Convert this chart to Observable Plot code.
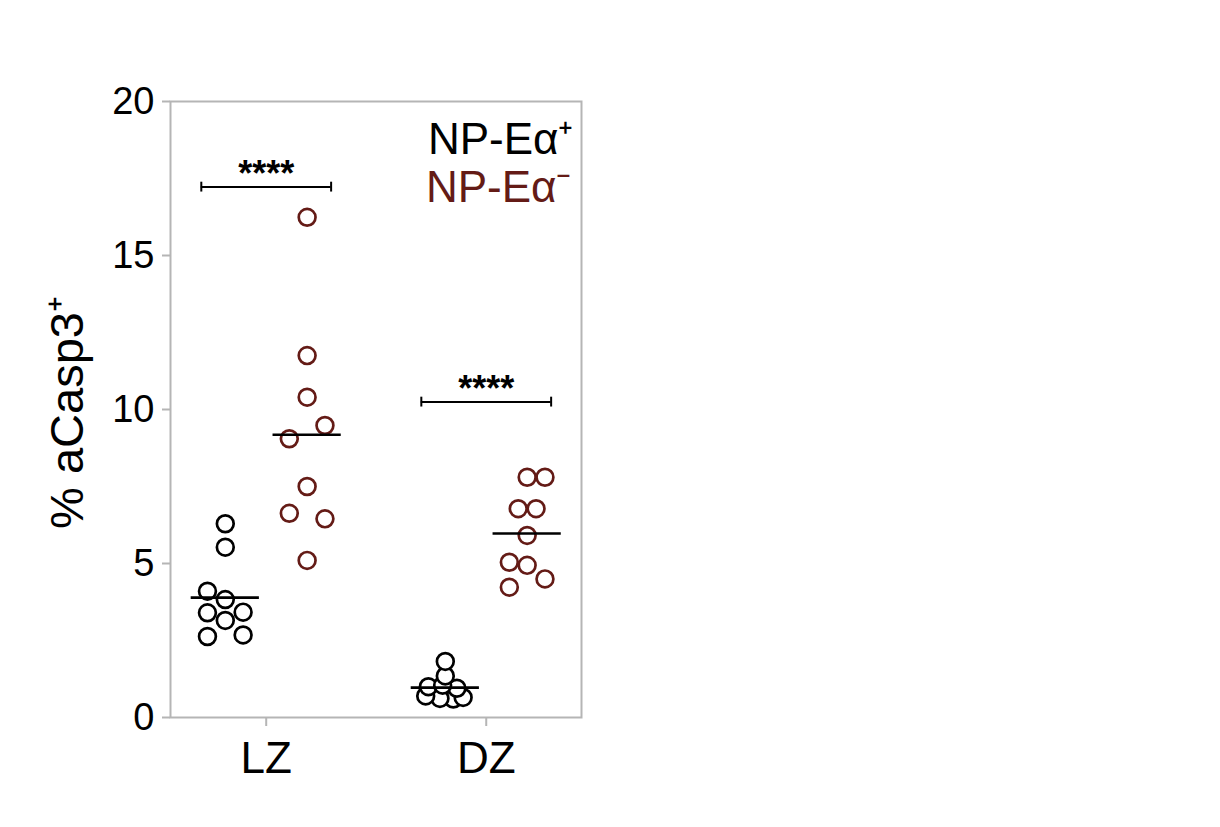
<!DOCTYPE html>
<html><head><meta charset="utf-8">
<script src="https://cdn.jsdelivr.net/npm/d3@7"></script>
<script src="https://cdn.jsdelivr.net/npm/@observablehq/plot@0.6"></script>
<style>body{margin:0;background:#fff;} svg{display:block}</style>
</head><body><div id="chart"></div>
<script>
// ---- data ----
const zones = ["LZ", "DZ"];
const groups = ["NP-Eα⁺", "NP-Eα⁻"];
const yTicks = [0, 5, 10, 15, 20];
const yLabel = "% aCasp3⁺";

// values (% aCasp3+) and swarm lane (jitter column) per point
const lzPosValues = [6.29, 5.53, 4.10, 3.83, 3.40, 3.42, 3.15, 2.63, 2.68];
const lzPosLanes  = [0, 0, -1, 0, -1, 1, 0, -1, 1];
const lzNegValues = [16.24, 11.75, 10.40, 9.48, 9.05, 7.50, 6.63, 6.45, 5.10];
const lzNegLanes  = [0, 0, 0, 1, -1, 0, -1, 1, 0];
const dzPosValues = [1.82, 1.35, 1.00, 1.05, 0.95, 0.70, 0.62, 0.60, 0.65];
const dzPosLanes  = [0, 0, -0.95, -0.15, 0.65, -1.1, -0.3, 0.45, 1.0];
const dzNegValues = [7.80, 7.80, 6.78, 6.78, 5.91, 5.04, 4.94, 4.50, 4.23];
const dzNegLanes  = [0, 1, -0.5, 0.5, 0, -1, 0, 1, -1];

const bracketZones  = ["LZ", "DZ"];
const bracketValues = [17.22, 10.24];
const bracketLabels = ["****", "****"];

// ---- layout constants ----
const RED = "#641b16";
const GRAY = "#b5b5b5";
const GROUP_OFFSET = 0.186, LANE = 0.081, MEAN_HALF = 0.155, BRACKET_HALF = 0.295, CAP = 0.16;

const series = [
  [zones[0], groups[0], lzPosValues, lzPosLanes],
  [zones[0], groups[1], lzNegValues, lzNegLanes],
  [zones[1], groups[0], dzPosValues, dzPosLanes],
  [zones[1], groups[1], dzNegValues, dzNegLanes]
];
const rows = series.flatMap(([zone, group, vals, lanes]) =>
  vals.map((value, i) => ({zone, group, value, lane: lanes[i]})));
rows.sort((a, b) => a.value - b.value);

const groupX = (zone, group) => zones.indexOf(zone) + (group === groups[0] ? -GROUP_OFFSET : GROUP_OFFSET);

const means = series.map(([zone, group, vals]) => ({zone, group, mean: d3.mean(vals)}));
const brackets = bracketZones.map((zone, i) => ({zone, value: bracketValues[i], label: bracketLabels[i]}));
const caps = brackets.flatMap(b => [-1, 1].map(s => ({...b, side: s})));

const chart = Plot.plot({
  width: 1220,
  height: 827,
  marginLeft: 170,
  marginRight: 639,
  marginTop: 101,
  marginBottom: 110,
  style: {fontFamily: "'Liberation Sans', Arial, sans-serif", background: "#fff", color: "#000"},
  x: {type: "linear", domain: [-0.435, 1.433]},
  y: {domain: [0, 20]},
  color: {domain: groups, range: ["#000000", RED]},
  marks: [
    Plot.frame({stroke: GRAY, strokeWidth: 2}),
    Plot.axisY({ticks: yTicks, tickSize: 8, tickPadding: 8, fontSize: 38, stroke: GRAY, strokeWidth: 2, label: null}),
    Plot.axisX({ticks: [0, 1], tickFormat: i => zones[i], tickSize: 9, tickPadding: 15, fontSize: 44, stroke: GRAY, strokeWidth: 2, label: null}),
    Plot.text([yLabel], {text: d => d, frameAnchor: "left", rotate: -90, dx: -121, dy: 3, lineAnchor: "top", textAnchor: "middle", fontSize: 47}),
    Plot.dot(rows, {
      x: d => groupX(d.zone, d.group) + d.lane * LANE,
      y: "value", r: 8.4, stroke: "group", strokeWidth: 2.7, fill: "white"
    }),
    Plot.ruleY(means, {
      y: "mean",
      x1: d => groupX(d.zone, d.group) - MEAN_HALF,
      x2: d => groupX(d.zone, d.group) + MEAN_HALF,
      stroke: "black", strokeWidth: 2.6
    }),
    Plot.ruleY(brackets, {
      y: "value",
      x1: d => zones.indexOf(d.zone) - BRACKET_HALF,
      x2: d => zones.indexOf(d.zone) + BRACKET_HALF,
      stroke: "black", strokeWidth: 2
    }),
    Plot.ruleX(caps, {
      x: d => zones.indexOf(d.zone) + d.side * BRACKET_HALF,
      y1: d => d.value - CAP, y2: d => d.value + CAP,
      stroke: "black", strokeWidth: 2
    }),
    Plot.text(brackets, {x: d => zones.indexOf(d.zone), y: "value", text: "label", fontSize: 36, fontWeight: "bold", dy: -13}),
    Plot.text([groups[0]], {text: d => d, fill: d => d, frameAnchor: "top-right", textAnchor: "end", lineAnchor: "top", dx: -8, dy: 21, fontSize: 44}),
    Plot.text([groups[1]], {text: d => d, fill: d => d, frameAnchor: "top-right", textAnchor: "end", lineAnchor: "top", dx: -10, dy: 69, fontSize: 44})
  ]
});
document.getElementById("chart").appendChild(chart);
</script>
</body></html>
